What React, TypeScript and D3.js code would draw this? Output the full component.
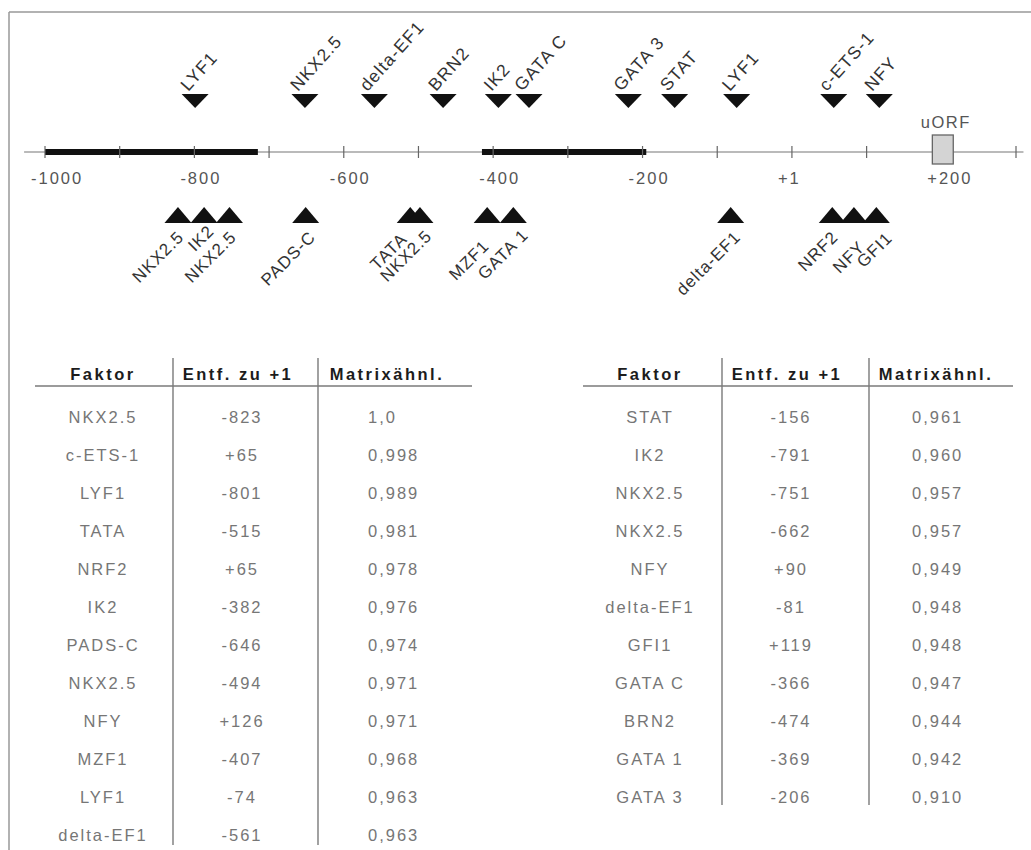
import React from "react";
import * as d3 from "d3";

// ---- axis data ----
const axisTicks = [-1000, -900, -800, -700, -600, -500, -400, -300, -200, -100, 0, 100, 200, 300];
const axisLabelValues = [-1000, -800, -600, -400, -200, 0, 200];
const axisLabels = ["-1000", "-800", "-600", "-400", "-200", "+1", "+200"];
const thickSegments: [number, number][] = [[-1000, -715], [-415, -195]];
const axisExtent: [number, number] = [-1028, 310];
const uorfSpan: [number, number] = [188, 216];
const uorfLabel = "uORF";

// ---- binding sites (positions as drawn) ----
const topNames = ["LYF1", "NKX2.5", "delta-EF1", "BRN2", "IK2", "GATA C", "GATA 3", "STAT", "LYF1", "c-ETS-1", "NFY"];
const topPos = [-799, -652, -559, -467, -393, -352, -219, -157, -74, 56, 117];
const bottomNames = ["NKX2.5", "IK2", "NKX2.5", "PADS-C", "TATA", "NKX2.5", "MZF1", "GATA 1", "delta-EF1", "NRF2", "NFY", "GFI1"];
const bottomPos = [-822, -787, -753, -651, -511, -498, -408, -373, -82, 54, 83, 113];
// label nudges (px) used to separate crowded labels as in the original
const bottomLabelDx = [-3, 1, -2, 1, -12, 3, -7, 6, 1, -3, 2, 7];
const bottomLabelDy = [0, -6, 0, 0, 2, -1, 9, -2, 0, 0, 10, 1];

// ---- tables ----
const headers = ["Faktor", "Entf. zu +1", "Matrixähnl."];
const leftFactors = ["NKX2.5", "c-ETS-1", "LYF1", "TATA", "NRF2", "IK2", "PADS-C", "NKX2.5", "NFY", "MZF1", "LYF1", "delta-EF1"];
const leftDist = [-823, 65, -801, -515, 65, -382, -646, -494, 126, -407, -74, -561];
const leftSim = [1.0, 0.998, 0.989, 0.981, 0.978, 0.976, 0.974, 0.971, 0.971, 0.968, 0.963, 0.963];
const rightFactors = ["STAT", "IK2", "NKX2.5", "NKX2.5", "NFY", "delta-EF1", "GFI1", "GATA C", "BRN2", "GATA 1", "GATA 3"];
const rightDist = [-156, -791, -751, -662, 90, -81, 119, -366, -474, -369, -206];
const rightSim = [0.961, 0.96, 0.957, 0.957, 0.949, 0.948, 0.948, 0.947, 0.944, 0.942, 0.91];

const FONT = "'Liberation Sans', Arial, sans-serif";

const fmtDist = (d: number) => (d > 0 ? "+" + d : String(d));
const fmtSim = (v: number) => (v === 1 ? "1,0" : d3.format(".3f")(v).replace(".", ","));

type TableProps = {
  factors: string[];
  dist: number[];
  sim: number[];
  colCenters: number[];
  simStart: number;
  lineX: [number, number];
  sepX: number[];
  vlineBottom: number;
};

function Table({ factors, dist, sim, colCenters, simStart, lineX, sepX, vlineBottom }: TableProps) {
  const rowY = d3.scaleLinear().domain([0, 1]).range([422.5, 460.5]);
  return (
    <g fontFamily={FONT}>
      {headers.map((h, i) => (
        <text
          key={h}
          x={colCenters[i]}
          y={380}
          textAnchor="middle"
          fontSize={16.5}
          fontWeight="bold"
          letterSpacing={2.5}
          fill="#1c1c1c"
        >
          {h}
        </text>
      ))}
      <line x1={lineX[0]} x2={lineX[1]} y1={386} y2={386} stroke="#7a7a7a" strokeWidth={1.5} />
      {sepX.map((x) => (
        <line key={x} x1={x} x2={x} y1={358} y2={vlineBottom} stroke="#7a7a7a" strokeWidth={1.4} />
      ))}
      {factors.map((f, i) => (
        <g key={i} fontSize={16.5} letterSpacing={2} fill="#767676">
          <text x={colCenters[0]} y={rowY(i)} textAnchor="middle">
            {f}
          </text>
          <text x={colCenters[1] + 4} y={rowY(i)} textAnchor="middle">
            {fmtDist(dist[i])}
          </text>
          <text x={simStart} y={rowY(i)} textAnchor="start">
            {fmtSim(sim[i])}
          </text>
        </g>
      ))}
    </g>
  );
}

export default function App() {
  const W = 1031;
  const H = 850;
  const x = d3.scaleLinear().domain([-1000, 300]).range([45, 1016]);
  const axisY = 152;
  const triW = 13.5;
  const topTriTop = 94;
  const topTriBot = 108;
  const botTriBase = 223;
  const botTriApex = 207;

  return (
    <svg
      width={W}
      height={H}
      viewBox={`0 0 ${W} ${H}`}
      style={{ position: "absolute", left: 0, top: 0, display: "block", background: "#fff" }}
    >
      <rect x={0} y={0} width={W} height={H} fill="#fff" />
      {/* frame */}
      <line x1={9} x2={W} y1={12} y2={12} stroke="#999" strokeWidth={1.5} />
      <line x1={9} x2={9} y1={12} y2={H} stroke="#999" strokeWidth={1.5} />

      {/* axis */}
      <line x1={x(axisExtent[0])} x2={x(axisExtent[1])} y1={axisY} y2={axisY} stroke="#777" strokeWidth={1.2} />
      {thickSegments.map(([a, b], i) => (
        <line key={i} x1={x(a)} x2={x(b)} y1={axisY} y2={axisY} stroke="#111" strokeWidth={6} />
      ))}
      {axisTicks.map((t) => (
        <line key={t} x1={x(t)} x2={x(t)} y1={axisY - 6} y2={axisY + 6} stroke="#666" strokeWidth={1.2} />
      ))}
      <rect
        x={x(uorfSpan[0])}
        y={135}
        width={x(uorfSpan[1]) - x(uorfSpan[0])}
        height={29}
        fill="#d4d4d4"
        stroke="#666"
        strokeWidth={1.3}
      />
      <text
        x={(x(uorfSpan[0]) + x(uorfSpan[1])) / 2 + 3}
        y={128}
        textAnchor="middle"
        fontFamily={FONT}
        fontSize={16.5}
        letterSpacing={1.5}
        fill="#555"
      >
        {uorfLabel}
      </text>
      {axisLabelValues.map((v, i) => (
        <text
          key={v}
          x={x(v) - 14}
          y={184}
          textAnchor="start"
          fontFamily={FONT}
          fontSize={16.5}
          letterSpacing={2}
          fill="#555"
        >
          {axisLabels[i]}
        </text>
      ))}

      {/* top sites */}
      {topPos.map((p, i) => {
        const cx = x(p);
        return (
          <g key={"t" + i}>
            <polygon
              points={`${cx - triW},${topTriTop} ${cx + triW},${topTriTop} ${cx},${topTriBot}`}
              fill="#111"
            />
            <text
              transform={`translate(${cx - 7},${topTriTop - 2}) rotate(-48)`}
              fontFamily={FONT}
              fontSize={17.5}
              letterSpacing={1.2}
              fill="#333"
            >
              {topNames[i]}
            </text>
          </g>
        );
      })}

      {/* bottom sites */}
      {bottomPos.map((p, i) => {
        const cx = x(p);
        return (
          <g key={"b" + i}>
            <polygon
              points={`${cx - triW},${botTriBase} ${cx + triW},${botTriBase} ${cx},${botTriApex}`}
              fill="#111"
            />
            <text
              transform={`translate(${cx + 10 + bottomLabelDx[i]},${botTriBase + 15 + bottomLabelDy[i]}) rotate(-45)`}
              textAnchor="end"
              fontFamily={FONT}
              fontSize={17}
              letterSpacing={1}
              fill="#333"
            >
              {bottomNames[i]}
            </text>
          </g>
        );
      })}

      <Table
        factors={leftFactors}
        dist={leftDist}
        sim={leftSim}
        colCenters={[103, 238, 387]}
        simStart={368}
        lineX={[35, 472]}
        sepX={[173, 318]}
        vlineBottom={845}
      />
      <Table
        factors={rightFactors}
        dist={rightDist}
        sim={rightSim}
        colCenters={[650, 787, 936]}
        simStart={912}
        lineX={[583, 1013]}
        sepX={[722, 869]}
        vlineBottom={805}
      />
    </svg>
  );
}
